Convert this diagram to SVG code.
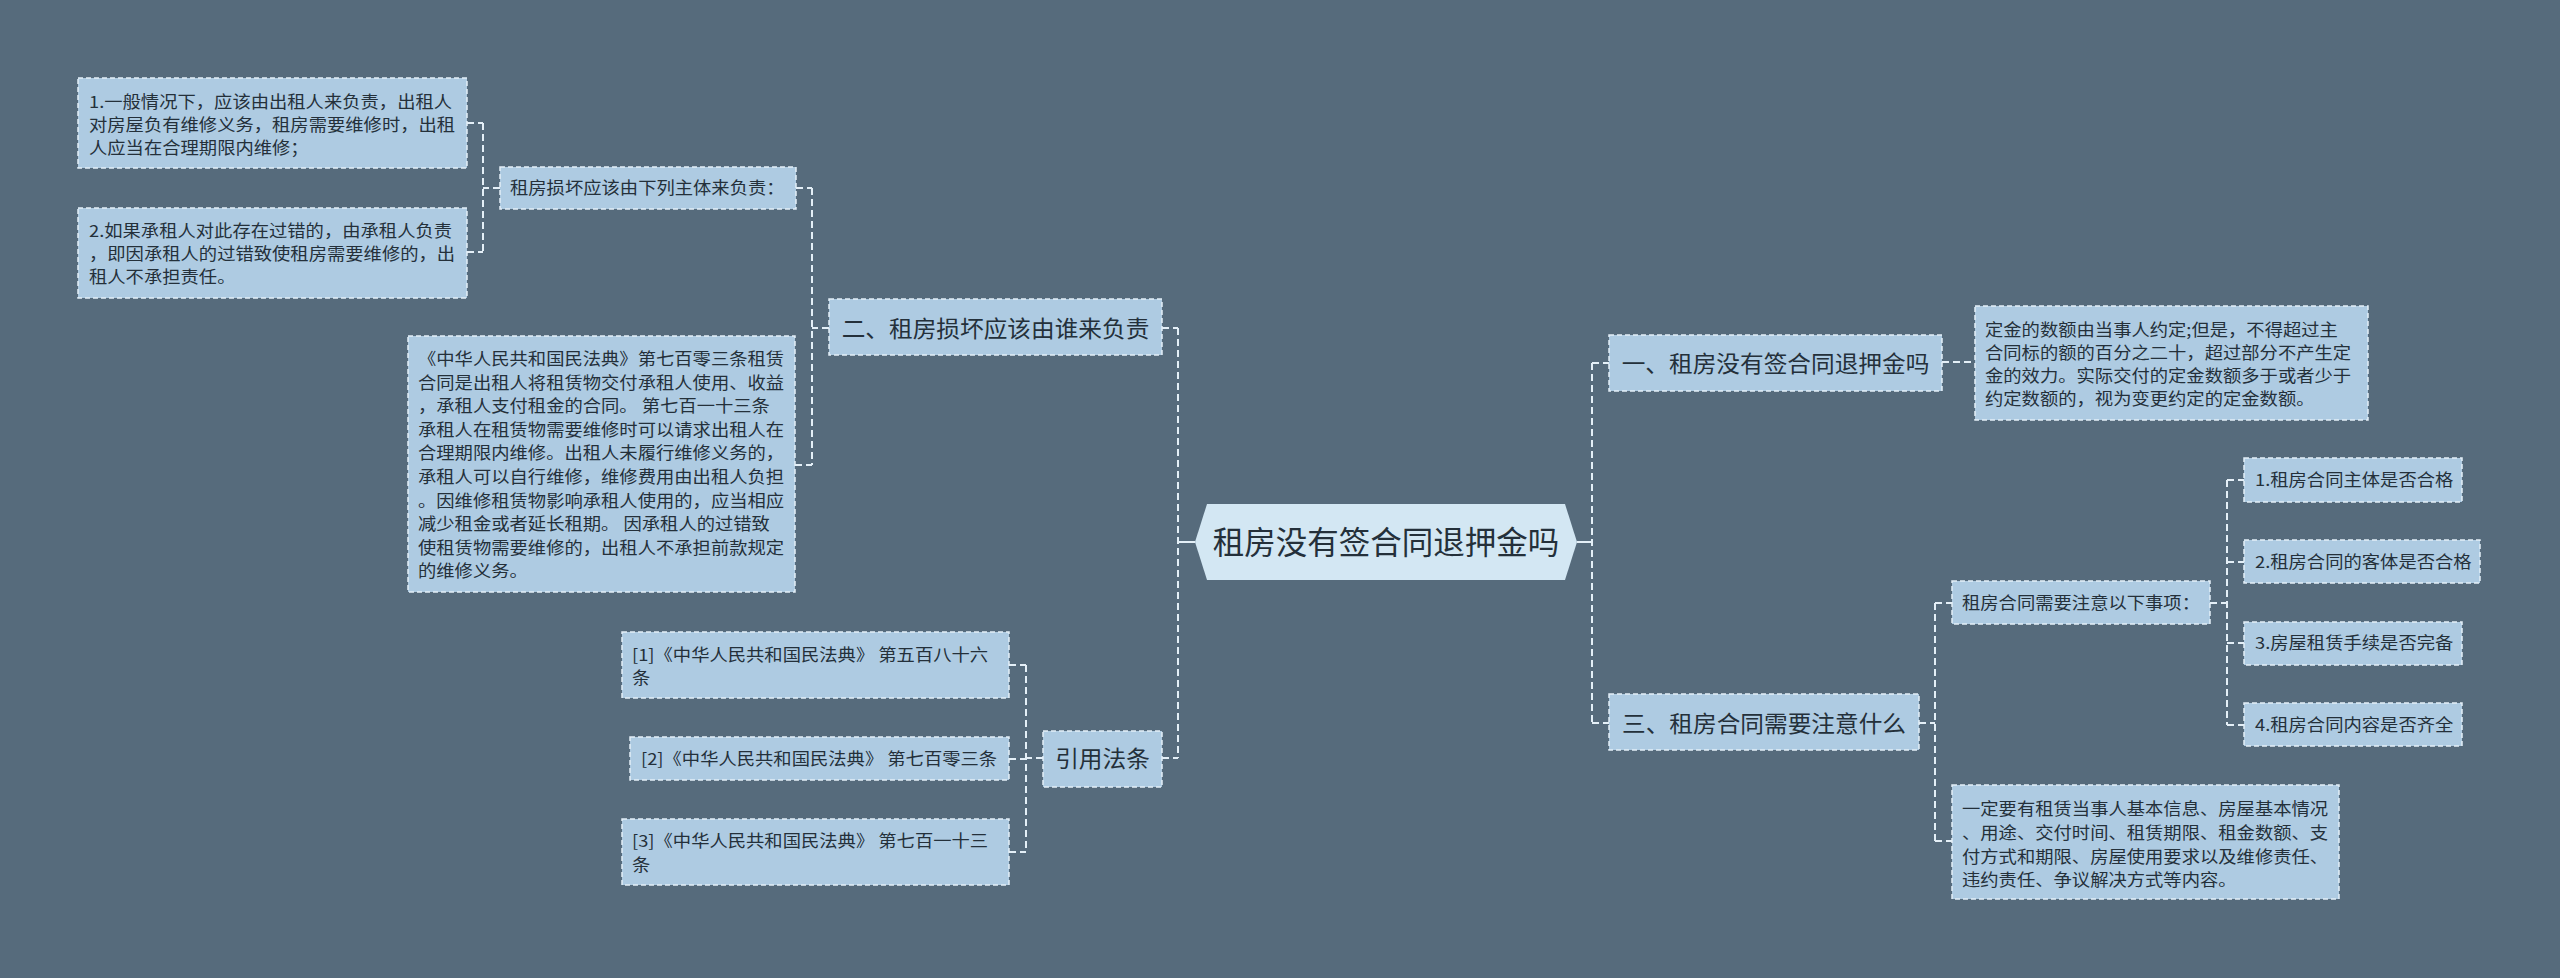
<svg xmlns="http://www.w3.org/2000/svg" width="2560" height="978" viewBox="0 0 2560 978">
<style>
.bg{fill:#566b7c}
.box{fill:#aecbe2;stroke:#e4eff7;stroke-width:1.5;stroke-dasharray:5 3}
.ctr{fill:#d3e7f3}
.t{font-family:"Noto Sans CJK SC","Noto Sans",sans-serif;fill:#24303a}
.s{font-size:16.5px}
.l1{font-size:23px;text-anchor:middle}
.c0{font-size:31.5px;text-anchor:middle}
.cn{fill:none;stroke:#e4eff7;stroke-width:2;stroke-dasharray:7 4}
.sol{fill:none;stroke:#e4eff7;stroke-width:2}
</style>
<rect class="bg" x="0" y="0" width="2560" height="978"/>
<g id="connectors">
<path class="cn" d="M1178,328 V758 M1162,328 H1178 M1162,758 H1178"/>
<path class="sol" d="M1178,542 H1195"/>
<path class="cn" d="M1592,363 V723 M1592,363 H1609 M1592,723 H1609"/>
<path class="sol" d="M1577,542 H1592"/>
<path class="cn" d="M829,328 H812 M812,188 V465 M796,188 H812 M795,465 H812"/>
<path class="cn" d="M500,188 H483 M483,123 V252 M467,123 H483 M467,252 H483"/>
<path class="cn" d="M1043,758 H1026 M1026,665 V852 M1009,665 H1026 M1009,759 H1026 M1009,852 H1026"/>
<path class="cn" d="M1942,362 H1975"/>
<path class="cn" d="M1919,723 H1935 M1935,603 V841 M1935,603 H1952 M1935,841 H1952"/>
<path class="cn" d="M2210,603 H2227 M2227,480 V725 M2227,480 H2244 M2227,562 H2244 M2227,643 H2244 M2227,725 H2244"/>
</g>
<g id="center">
<polygon class="ctr" points="1195,542 1207,504 1565,504 1577,542 1565,580 1207,580"/>
<text class="t c0" x="1386" y="554">租房没有签合同退押金吗</text>
</g>
<g id="n2">
<rect class="box" x="829" y="299" width="333" height="56"/>
<text class="t l1" transform="translate(995.5,0) scale(1.03,1)" x="0" y="337">二、租房损坏应该由谁来负责</text>
</g>
<g id="n2-sub">
<rect class="box" x="500" y="167" width="296" height="42"/>
<text class="t s" transform="translate(510,0) scale(1.11,1)" x="0" y="194">租房损坏应该由下列主体来负责：</text>
</g>
<g id="n2-sub-1">
<rect class="box" x="78" y="78" width="389" height="90"/>
<text class="t s" transform="translate(89,0) scale(1.11,1)"><tspan x="0" y="108">1.一般情况下，应该由出租人来负责，出租人</tspan><tspan x="0" y="131">对房屋负有维修义务，租房需要维修时，出租</tspan><tspan x="0" y="154">人应当在合理期限内维修；</tspan></text>
</g>
<g id="n2-sub-2">
<rect class="box" x="78" y="208" width="389" height="90"/>
<text class="t s" transform="translate(89,0) scale(1.11,1)"><tspan x="0" y="237">2.如果承租人对此存在过错的，由承租人负责</tspan><tspan x="0" y="260">，即因承租人的过错致使租房需要维修的，出</tspan><tspan x="0" y="283">租人不承担责任。</tspan></text>
</g>
<g id="n2-law">
<rect class="box" x="408" y="336" width="387" height="256"/>
<text class="t s" transform="translate(418,0) scale(1.11,1)"><tspan x="0" y="365">《中华人民共和国民法典》第七百零三条租赁</tspan><tspan x="0" y="388.6">合同是出租人将租赁物交付承租人使用、收益</tspan><tspan x="0" y="412.2">，承租人支付租金的合同。 第七百一十三条</tspan><tspan x="0" y="435.8">承租人在租赁物需要维修时可以请求出租人在</tspan><tspan x="0" y="459.4">合理期限内维修。出租人未履行维修义务的，</tspan><tspan x="0" y="483">承租人可以自行维修，维修费用由出租人负担</tspan><tspan x="0" y="506.6">。因维修租赁物影响承租人使用的，应当相应</tspan><tspan x="0" y="530.2">减少租金或者延长租期。 因承租人的过错致</tspan><tspan x="0" y="553.8">使租赁物需要维修的，出租人不承担前款规定</tspan><tspan x="0" y="577.4">的维修义务。</tspan></text>
</g>
<g id="n-cite">
<rect class="box" x="1043" y="731" width="119" height="56"/>
<text class="t l1" transform="translate(1102.5,0) scale(1.03,1)" x="0" y="767">引用法条</text>
</g>
<g id="cite-1">
<rect class="box" x="622" y="632" width="387" height="66"/>
<text class="t s" transform="translate(632,0) scale(1.11,1)"><tspan x="0" y="661">[1]《中华人民共和国民法典》 第五百八十六</tspan><tspan x="0" y="684">条</tspan></text>
</g>
<g id="cite-2">
<rect class="box" x="630" y="737" width="379" height="43"/>
<text class="t s" transform="translate(641,0) scale(1.11,1)" x="0" y="765">[2]《中华人民共和国民法典》 第七百零三条</text>
</g>
<g id="cite-3">
<rect class="box" x="622" y="819" width="387" height="66"/>
<text class="t s" transform="translate(632,0) scale(1.11,1)"><tspan x="0" y="847">[3]《中华人民共和国民法典》 第七百一十三</tspan><tspan x="0" y="871">条</tspan></text>
</g>
<g id="n1">
<rect class="box" x="1609" y="335" width="333" height="56"/>
<text class="t l1" transform="translate(1775.5,0) scale(1.03,1)" x="0" y="372">一、租房没有签合同退押金吗</text>
</g>
<g id="n1-sub">
<rect class="box" x="1975" y="306" width="393" height="114"/>
<text class="t s" transform="translate(1985,0) scale(1.11,1)"><tspan x="0" y="336">定金的数额由当事人约定;但是，不得超过主</tspan><tspan x="0" y="359">合同标的额的百分之二十，超过部分不产生定</tspan><tspan x="0" y="382">金的效力。实际交付的定金数额多于或者少于</tspan><tspan x="0" y="405">约定数额的，视为变更约定的定金数额。</tspan></text>
</g>
<g id="n3">
<rect class="box" x="1609" y="694" width="310" height="56"/>
<text class="t l1" transform="translate(1764,0) scale(1.03,1)" x="0" y="732">三、租房合同需要注意什么</text>
</g>
<g id="n3-sub">
<rect class="box" x="1952" y="581" width="258" height="43"/>
<text class="t s" transform="translate(1962,0) scale(1.11,1)" x="0" y="609">租房合同需要注意以下事项：</text>
</g>
<g id="n3-item-1">
<rect class="box" x="2244" y="458" width="218" height="44"/>
<text class="t s" transform="translate(2255,0) scale(1.11,1)" x="0" y="486">1.租房合同主体是否合格</text>
</g>
<g id="n3-item-2">
<rect class="box" x="2244" y="540" width="236" height="43"/>
<text class="t s" transform="translate(2255,0) scale(1.11,1)" x="0" y="568">2.租房合同的客体是否合格</text>
</g>
<g id="n3-item-3">
<rect class="box" x="2244" y="622" width="218" height="43"/>
<text class="t s" transform="translate(2255,0) scale(1.11,1)" x="0" y="649">3.房屋租赁手续是否完备</text>
</g>
<g id="n3-item-4">
<rect class="box" x="2244" y="703" width="218" height="43"/>
<text class="t s" transform="translate(2255,0) scale(1.11,1)" x="0" y="731">4.租房合同内容是否齐全</text>
</g>
<g id="n3-detail">
<rect class="box" x="1952" y="785" width="387" height="114"/>
<text class="t s" transform="translate(1962,0) scale(1.11,1)"><tspan x="0" y="815">一定要有租赁当事人基本信息、房屋基本情况</tspan><tspan x="0" y="839">、用途、交付时间、租赁期限、租金数额、支</tspan><tspan x="0" y="863">付方式和期限、房屋使用要求以及维修责任、</tspan><tspan x="0" y="886">违约责任、争议解决方式等内容。</tspan></text>
</g>
</svg>
